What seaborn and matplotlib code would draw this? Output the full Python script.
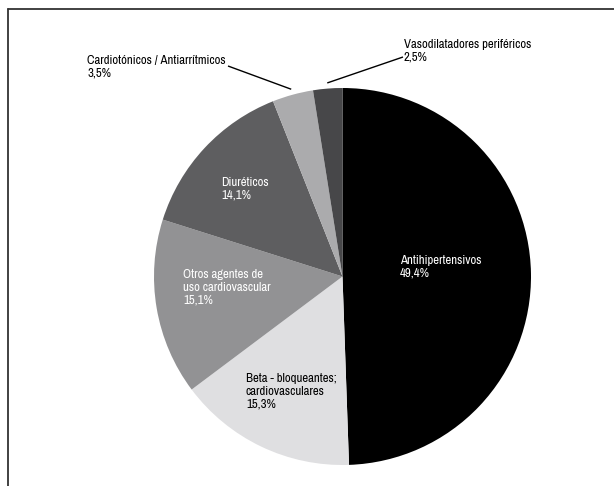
import numpy as np
import matplotlib
matplotlib.use("Agg")
import matplotlib.pyplot as plt
from matplotlib.lines import Line2D
import seaborn as sns

# Share of each therapeutic group, clockwise from 12 o'clock
categories = [
    "Antihipertensivos",
    "Beta - bloqueantes;\ncardiovasculares",
    "Otros agentes de\nuso cardiovascular",
    "Diuréticos",
    "Cardiotónicos / Antiarrítmicos",
    "Vasodilatadores periféricos",
]
shares = [49.4, 15.3, 15.1, 14.1, 3.5, 2.5]
slice_colors = ["#000000", "#dfdfe1", "#929294", "#5e5e60", "#ababad", "#474749"]

sns.set_theme(style="white")
plt.rcParams["font.family"] = ["Archivo Narrow", "Roboto Condensed", "DejaVu Sans"]

W, H = 614, 486
fig = plt.figure(figsize=(W / 100, H / 100), dpi=100)
fig.patch.set_facecolor("white")

# pie geometry in pixels
cx, cy, R = 342.5, 276.5, 188.5
ax = fig.add_axes([(cx - R) / W, (H - cy - R) / H, 2 * R / W, 2 * R / H])

wedges, _ = ax.pie(shares, colors=slice_colors, startangle=90, counterclock=False,
                   radius=1.0, wedgeprops=dict(linewidth=0))
ax.set_xlim(-1, 1)
ax.set_ylim(-1, 1)
ax.set_aspect("auto")
ax.axis("off")


def px_to_data(px, py):
    return (px - cx) / R, (cy - py) / R


def label(i, px, py, color):
    txt = f"{categories[i]}\n{shares[i]:.1f}%".replace(".", ",")
    x, y = px_to_data(px, py)
    ax.text(x, y, txt, color=color, fontsize=9.2, ha="left", va="top",
            linespacing=1.2, clip_on=False)


# labels inside the slices
label(0, 400, 255, "white")
label(1, 246, 373, "black")
label(2, 183, 269, "white")
label(3, 221.5, 177, "white")
# labels outside the pie with leader lines
label(4, 87, 55, "black")
label(5, 404, 39, "black")


def leader(i, px, py):
    start = sum(shares[:i])
    mid = (start + shares[i] / 2) / sum(shares) * 360
    theta = np.deg2rad(90 - mid)
    ex, ey = 1.03 * np.cos(theta), 1.03 * np.sin(theta)
    sx, sy = px_to_data(px, py)
    ax.plot([sx, ex], [sy, ey], color="black", lw=1.0, clip_on=False,
            solid_capstyle="butt")


leader(4, 228, 66)
leader(5, 403, 57)

# open frame: top and left edges only
fig.add_artist(Line2D([7.5 / W, 1.0], [1 - 9.5 / H, 1 - 9.5 / H],
                      transform=fig.transFigure, color="#333333", lw=1.3))
fig.add_artist(Line2D([7.5 / W, 7.5 / W], [0.0, 1 - 9.5 / H],
                      transform=fig.transFigure, color="#333333", lw=1.3))

fig.savefig("out.png", dpi=100, facecolor="white")
